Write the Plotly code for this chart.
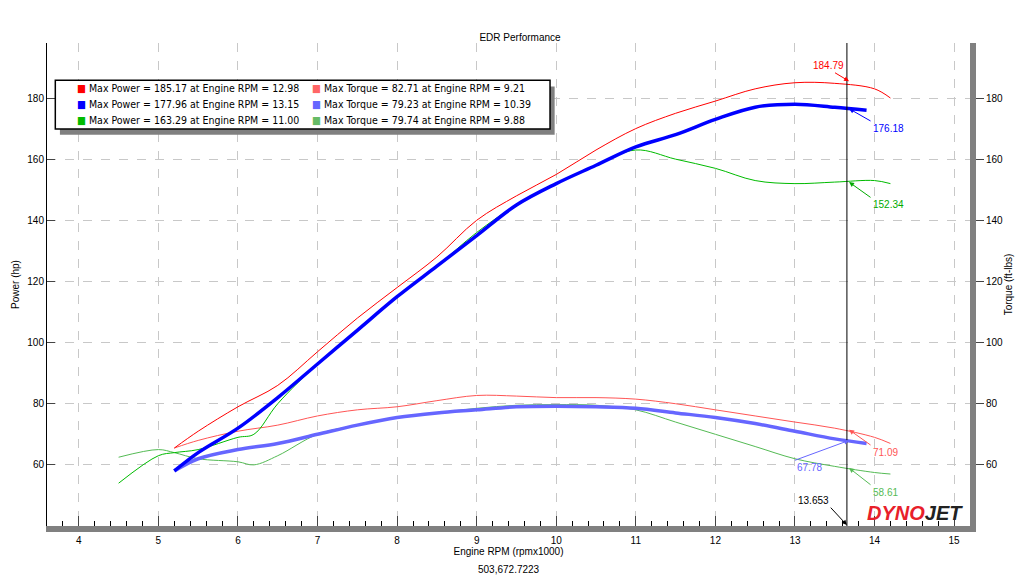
import plotly.graph_objects as go

rpm_red = [5.2,5.5,6,6.5,7,7.5,8,8.5,9,9.5,10,10.5,11,11.5,12,12.5,13,13.5,14,14.2]
pow_red = [65.5,71,79,86,97,108,118,128,140,148,155,163,170,175,179,183,185,184.8,183,180]
tq_red  = [65.5,68,71,73,76,78,79,81,82.7,82.5,82,82,81.5,80,78,76,74,72,69,67]

rpm_blue = [5.2,5.5,6,6.5,7,7.5,8,8.5,9,9.5,10,10.5,11,11.5,12,12.5,13,13.5,13.9]
pow_blue = [58,64,72,82,93,104,115,125,135,145,152,158,164,168,173,177,178,177,176]
tq_blue  = [58,62,65,67,70,73,75.5,77,78,79,79.2,79,78.5,77,75.5,73.5,71,68.5,67]

rpm_green = [4.5,5,5.2,5.5,6,6.2,6.5,7,7.5,8,8.5,9,9.5,10,10.5,11,11.5,12,12.5,13,13.5,14,14.2]
pow_green = [54,63,64,65,69,70,80,93,104,115,125,136,145,152,158,163,160,157,153,152,152.5,153,152]
tq_green  = [62.5,65,64,62,61,60,63,70,73,75.5,77,78.5,79.5,79.7,79.5,78,74,70,66,62,59.5,57.5,57]

legend_rows = [
    ("#ff0000","Max Power = 185.17 at Engine RPM = 12.98","#ff6666","Max Torque = 82.71 at Engine RPM = 9.21"),
    ("#0000ff","Max Power = 177.96 at Engine RPM = 13.15","#6666ff","Max Torque = 79.23 at Engine RPM = 10.39"),
    ("#00bb00","Max Power = 163.29 at Engine RPM = 11.00","#66bb66","Max Torque = 79.74 at Engine RPM = 9.88"),
]
cursor = 13.653

fig = go.Figure()
def add(x, y, c, w):
    fig.add_trace(go.Scatter(x=x, y=y, mode="lines", line=dict(color=c, width=w, shape="spline"), showlegend=False))
add(rpm_green, tq_green, "#55bb55", 1)
add(rpm_red, tq_red, "#ff5555", 1)
add(rpm_blue, tq_blue, "#6666ff", 3.5)
add(rpm_green, pow_green, "#00bb00", 1)
add(rpm_red, pow_red, "#ff0000", 1)
add(rpm_blue, pow_blue, "#0000ff", 3.5)

fig.add_shape(type="line", x0=cursor, x1=cursor, y0=40, y1=198, line=dict(color="black", width=1))

anns = [
    (13.2,193,"184.79","#ff0000",13.68,185.5),
    (13.95,172.5,"176.18","#0000ff",13.68,176.5),
    (13.95,147.5,"152.34","#00aa00",13.68,152.5),
    (13.95,66.5,"71.09","#ff5555",13.68,71.5),
    (13.0,61.5,"67.78","#6666ff",13.68,68),
    (13.95,53.5,"58.61","#55bb55",13.68,59),
]
for tx,ty,t,c,ax_,ay_ in anns:
    fig.add_annotation(x=ax_, y=ay_, ax=tx, ay=ty, axref="x", ayref="y", text=t,
                       showarrow=True, arrowhead=2, arrowsize=1, arrowwidth=1, arrowcolor=c,
                       font=dict(color=c, size=10), xanchor="left", yanchor="top")
fig.add_annotation(x=cursor, y=40.3, ax=13.45, ay=46, axref="x", ayref="y", text="13.653",
                   showarrow=True, arrowhead=2, arrowwidth=1, arrowcolor="black",
                   font=dict(size=10), xanchor="right", yanchor="bottom")

# legend box
fig.add_shape(type="rect", xref="paper", yref="paper", x0=0.014, x1=0.55, y0=0.81, y1=0.91,
              fillcolor="#808080", line=dict(width=0), layer="above")
fig.add_shape(type="rect", xref="paper", yref="paper", x0=0.009, x1=0.545, y0=0.822, y1=0.923,
              fillcolor="white", line=dict(color="black", width=1.5), layer="above")
for i,(c1,t1,c2,t2) in enumerate(legend_rows):
    yy = 0.906 - i*0.033
    for xx,c,t in [(0.03,c1,t1),(0.285,c2,t2)]:
        fig.add_annotation(xref="paper", yref="paper", x=xx, y=yy, text="<span style='color:%s'>■</span> %s" % (c,t),
                           showarrow=False, xanchor="left", yanchor="middle", font=dict(size=10.5, color="black", family="DejaVu Sans Condensed"))

fig.add_annotation(xref="paper", yref="paper", x=0.995, y=0.0, text="<b><i><span style='color:#e8202a'>DYNO</span>JET</i></b>",
                   showarrow=False, xanchor="right", yanchor="bottom", font=dict(size=20, color="#222", family="Liberation Sans"))
fig.add_annotation(xref="paper", yref="paper", x=0.5, y=-0.075, text="503,672.7223", showarrow=False,
                   font=dict(size=10), yanchor="top")

fig.update_layout(
    width=1024, height=576, margin=dict(l=39, r=62, t=35, b=58, autoexpand=False),
    paper_bgcolor="white", plot_bgcolor="white",
    title=dict(text="EDR Performance", x=0.5, y=0.955, font=dict(size=10, color="black")),
    font=dict(family="Liberation Sans", color="black"),
    xaxis=dict(range=[3.6,15.2], tickvals=list(range(4,16)), showgrid=True, gridcolor="#c8c8c8", griddash="dash",
               showline=True, linecolor="#808080", linewidth=6, mirror=False, ticks="inside", ticklen=10, automargin=False,
               minor=dict(ticks="inside", ticklen=5, dtick=0.2, tickcolor="black"),
               title=dict(text="Engine RPM (rpmx1000)", font=dict(size=10), standoff=2), tickfont=dict(size=10), zeroline=False),
    yaxis=dict(range=[40,198], tickvals=[60,80,100,120,140,160,180], showgrid=True, gridcolor="#c8c8c8", griddash="dash",
               showline=True, linecolor="black", ticks="inside", ticklen=8, automargin=False,
               title=dict(text="Power (hp)", font=dict(size=10), standoff=5), tickfont=dict(size=10), zeroline=False),
    yaxis2=dict(range=[40,198], tickvals=[60,80,100,120,140,160,180], overlaying="y", side="right", automargin=False,
                showline=True, linecolor="#808080", linewidth=6, ticks="outside", ticklen=8,
                title=dict(text="Torque (ft-lbs)", font=dict(size=10), standoff=5), tickfont=dict(size=10), showgrid=False, zeroline=False),
)
fig.add_trace(go.Scatter(x=[None], y=[None], yaxis="y2", showlegend=False))
fig.write_html("out.html")
